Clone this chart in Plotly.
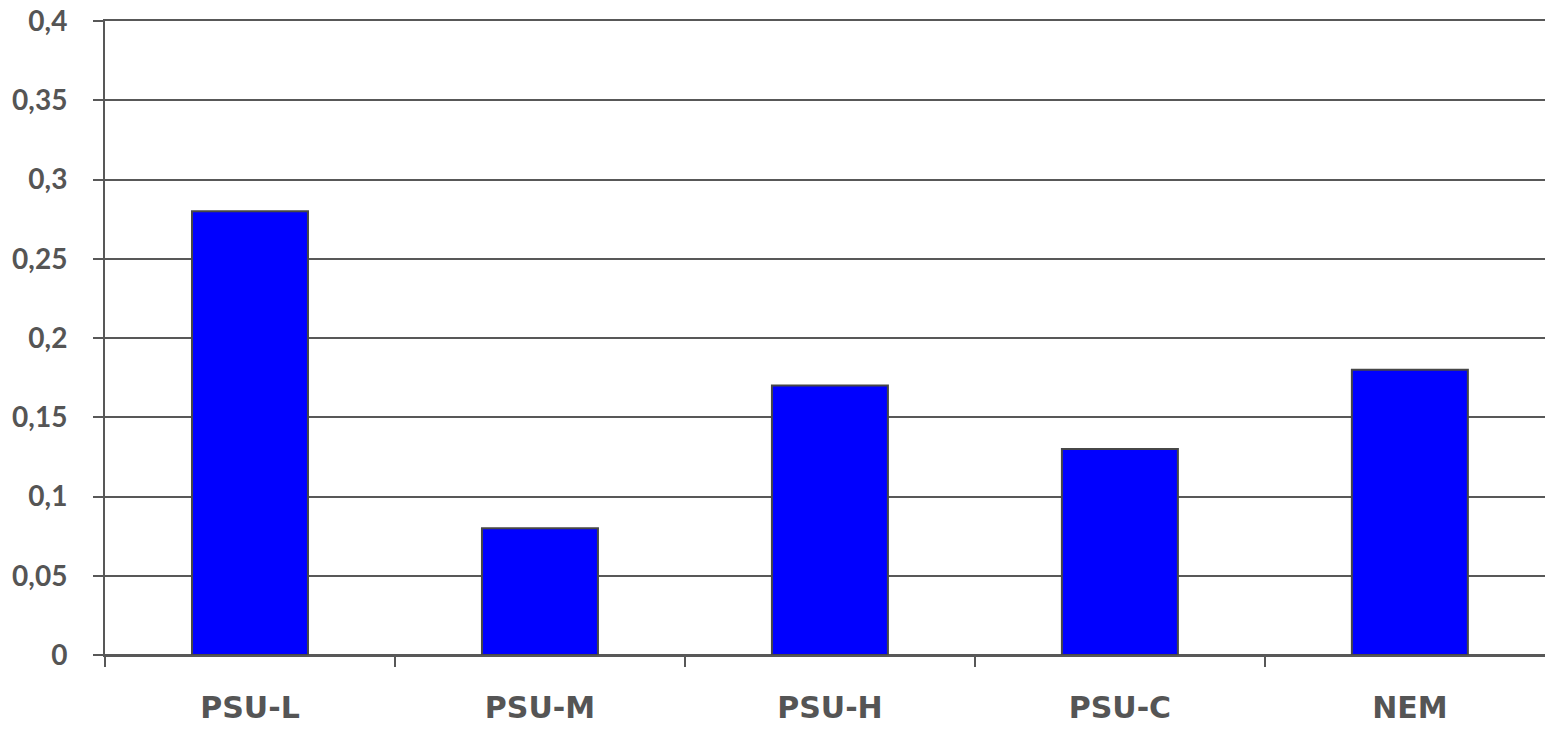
import plotly.graph_objects as go

categories = ["PSU-L", "PSU-M", "PSU-H", "PSU-C", "NEM"]
values = [0.28, 0.08, 0.17, 0.13, 0.18]
y_ticks = [0, 0.05, 0.1, 0.15, 0.2, 0.25, 0.3, 0.35, 0.4]
y_labels = ["0", "0,05", "0,1", "0,15", "0,2", "0,25", "0,3", "0,35", "0,4"]

text_color = "#555555"
line_color = "#585858"

fig = go.Figure(
    go.Bar(
        x=categories,
        y=values,
        width=0.4,
        marker=dict(color="#0000FF", line=dict(color="#474747", width=2)),
    )
)

fig.update_layout(
    width=1545,
    height=730,
    margin=dict(l=105, r=0, t=21, b=75),
    paper_bgcolor="white",
    plot_bgcolor="white",
    showlegend=False,
    font=dict(family="Lato", color=text_color),
)

fig.update_xaxes(
    range=[-0.5, 4.466],
    automargin=False,
    showgrid=False,
    showline=True,
    mirror=True,
    linecolor=line_color,
    linewidth=2,
    ticks="outside",
    tickson="boundaries",
    ticklen=10,
    tickwidth=2,
    tickcolor=line_color,
    ticklabelstandoff=25,
    tickfont=dict(family="DejaVu Sans", size=30, color=text_color, weight="bold"),
    zeroline=False,
)

fig.update_yaxes(
    range=[0, 0.4],
    automargin=False,
    tickvals=y_ticks,
    ticktext=y_labels,
    showgrid=True,
    gridcolor=line_color,
    gridwidth=2,
    showline=True,
    linecolor=line_color,
    linewidth=2,
    ticks="outside",
    ticklen=10,
    tickwidth=2,
    tickcolor=line_color,
    ticklabelstandoff=20,
    tickfont=dict(family="Lato", size=28, color=text_color, weight="bold"),
    zeroline=True,
    zerolinecolor=line_color,
    zerolinewidth=2,
)

fig.write_html(
    "out.html",
    config={"displayModeBar": False},
    post_script="document.body.style.margin='0';document.body.style.overflow='hidden';",
)
